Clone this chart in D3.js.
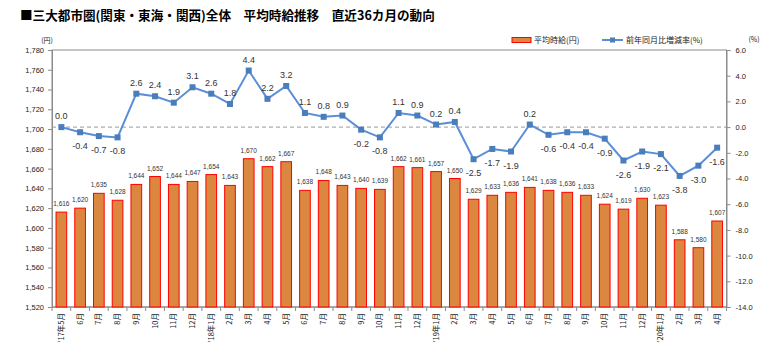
<!DOCTYPE html>
<html><head><meta charset="utf-8">
<script src="https://cdn.jsdelivr.net/npm/d3@7"></script>
<style>
body{margin:0;background:#fff;}
svg{display:block;font-family:"Liberation Sans","Noto Sans CJK JP",sans-serif;}
</style></head>
<body><svg id="c" width="779" height="355"></svg>
<script>
const categories = ["'17年5月","6月","7月","8月","9月","10月","11月","12月","'18年1月","2月","3月","4月","5月","6月","7月","8月","9月","10月","11月","12月","'19年1月","2月","3月","4月","5月","6月","7月","8月","9月","10月","11月","12月","'20年1月","2月","3月","4月"];
const wageValues = [1616,1620,1635,1628,1644,1652,1644,1647,1654,1643,1670,1662,1667,1638,1648,1643,1640,1639,1662,1661,1657,1650,1629,1633,1636,1641,1638,1636,1633,1624,1619,1630,1623,1588,1580,1607];
const rateValues = [0.0,-0.4,-0.7,-0.8,2.6,2.4,1.9,3.1,2.6,1.8,4.4,2.2,3.2,1.1,0.8,0.9,-0.2,-0.8,1.1,0.9,0.2,0.4,-2.5,-1.7,-1.9,0.2,-0.6,-0.4,-0.4,-0.9,-2.6,-1.9,-2.1,-3.8,-3.0,-1.6];
const leftTicks = d3.range(1520, 1781, 20);
const rightTicks = d3.range(-14, 6.01, 2);
const title = "■三大都市圏(関東・東海・関西)全体　平均時給推移　直近36カ月の動向";
const legendLabels = ["平均時給(円)", "前年同月比増減率(%)"];

const svg = d3.select("#c");
const L = 52, R = 726.5, T = 50, B = 307;
const x = d3.scaleBand().domain(d3.range(categories.length)).range([L, R]).paddingInner(0.43).paddingOuter(0.215);
const yL = d3.scaleLinear().domain([1520, 1780]).range([B, T]);
const yR = d3.scaleLinear().domain([-14, 6]).range([B, T]);
const axisColor = "#8c8c8c";
const textColor = "#222";

// title
svg.append("text").attr("x", 20).attr("y", 20).attr("font-size", 12.6).attr("font-weight", "bold")
  .attr("font-family", "'Noto Sans CJK JP',sans-serif").attr("fill", "#000").text(title);

// plot border
svg.append("rect").attr("x", L).attr("y", T).attr("width", R - L).attr("height", B - T)
  .attr("fill", "none").attr("stroke", axisColor).attr("stroke-width", 1);

// left axis
const gL = svg.append("g").attr("transform", `translate(${L},0)`)
  .call(d3.axisLeft(yL).tickValues(leftTicks).tickFormat(d3.format(",")).tickSize(4).tickPadding(4));
// right axis
const gR = svg.append("g").attr("transform", `translate(${R},0)`)
  .call(d3.axisRight(yR).tickValues(rightTicks).tickFormat(d3.format(".1f")).tickSize(4).tickPadding(5));
[gL, gR].forEach(g => {
  g.selectAll("path,line").attr("stroke", axisColor);
  g.selectAll("text").attr("font-size", 7.5).attr("fill", textColor);
});
gR.selectAll("text").text(d => d3.format(".1f")(d).replace("−", "-"));

// axis unit titles
svg.append("text").attr("x", 47).attr("y", 43).attr("text-anchor", "middle").attr("font-size", 7)
  .attr("font-family", "'Noto Sans CJK JP',sans-serif").attr("fill", textColor).text("(円)");
svg.append("text").attr("x", 754).attr("y", 42).attr("text-anchor", "middle").attr("font-size", 7)
  .attr("font-family", "'Noto Sans CJK JP',sans-serif").attr("fill", textColor).text("(%)");

// x axis ticks (between categories)
const step = x.step();
const gx = svg.append("g");
gx.append("line").attr("x1", L).attr("x2", R).attr("y1", B).attr("y2", B).attr("stroke", axisColor);
gx.selectAll("line.t").data(d3.range(categories.length + 1)).join("line").attr("class", "t")
  .attr("x1", i => L + i * step).attr("x2", i => L + i * step)
  .attr("y1", B).attr("y2", B + 4).attr("stroke", axisColor);
gx.selectAll("text").data(categories).join("text")
  .attr("transform", (d, i) => `translate(${x(i) + x.bandwidth() / 2 + 2.5},${B + 6}) rotate(-90)`)
  .attr("text-anchor", "end").attr("font-size", 7.5)
  .attr("font-family", "'Noto Sans CJK JP',sans-serif").attr("fill", textColor).text(d => d);

// zero dashed line
svg.append("line").attr("x1", L).attr("x2", R).attr("y1", yR(0)).attr("y2", yR(0))
  .attr("stroke", "#999").attr("stroke-dasharray", "4,3").attr("stroke-width", 1);

// bars
svg.append("g").selectAll("rect").data(wageValues).join("rect")
  .attr("x", (d, i) => x(i)).attr("width", x.bandwidth())
  .attr("y", d => yL(d)).attr("height", d => B - yL(d))
  .attr("fill", "#DC873F").attr("stroke", "#FF0000").attr("stroke-width", 1);
svg.append("g").selectAll("text").data(wageValues).join("text")
  .attr("x", (d, i) => x(i) + x.bandwidth() / 2).attr("y", d => yL(d) - 6)
  .attr("text-anchor", "middle").attr("font-size", 6.5).attr("fill", "#333")
  .text(d => d3.format(",")(d));

// line
const lineGen = d3.line().x((d, i) => x(i) + x.bandwidth() / 2).y(d => yR(d));
svg.append("path").datum(rateValues).attr("d", lineGen)
  .attr("fill", "none").attr("stroke", "#5B8ED6").attr("stroke-width", 2);
svg.append("g").selectAll("rect").data(rateValues).join("rect")
  .attr("x", (d, i) => x(i) + x.bandwidth() / 2 - 3).attr("y", d => yR(d) - 3)
  .attr("width", 6).attr("height", 6).attr("fill", "#4A7EBB");
svg.append("g").selectAll("text").data(rateValues).join("text")
  .attr("x", (d, i) => x(i) + x.bandwidth() / 2)
  .attr("y", d => d >= 0 ? yR(d) - 8 : yR(d) + 17)
  .attr("text-anchor", "middle").attr("font-size", 9).attr("fill", "#333")
  .text(d => d3.format(".1f")(d).replace("−", "-"));

// legend
const lg = svg.append("g").attr("font-family", "'Noto Sans CJK JP',sans-serif").attr("font-size", 8).attr("fill", textColor);
lg.append("rect").attr("x", 512).attr("y", 37.5).attr("width", 19).attr("height", 5)
  .attr("fill", "#DC873F").attr("stroke", "#FF0000").attr("stroke-width", 1);
lg.append("text").attr("x", 534).attr("y", 43).text(legendLabels[0]);
lg.append("line").attr("x1", 602).attr("x2", 623).attr("y1", 40).attr("y2", 40)
  .attr("stroke", "#5B8ED6").attr("stroke-width", 2);
lg.append("rect").attr("x", 610).attr("y", 37.5).attr("width", 5).attr("height", 5).attr("fill", "#4A7EBB");
lg.append("text").attr("x", 626).attr("y", 43).text(legendLabels[1]);
</script></body></html>
